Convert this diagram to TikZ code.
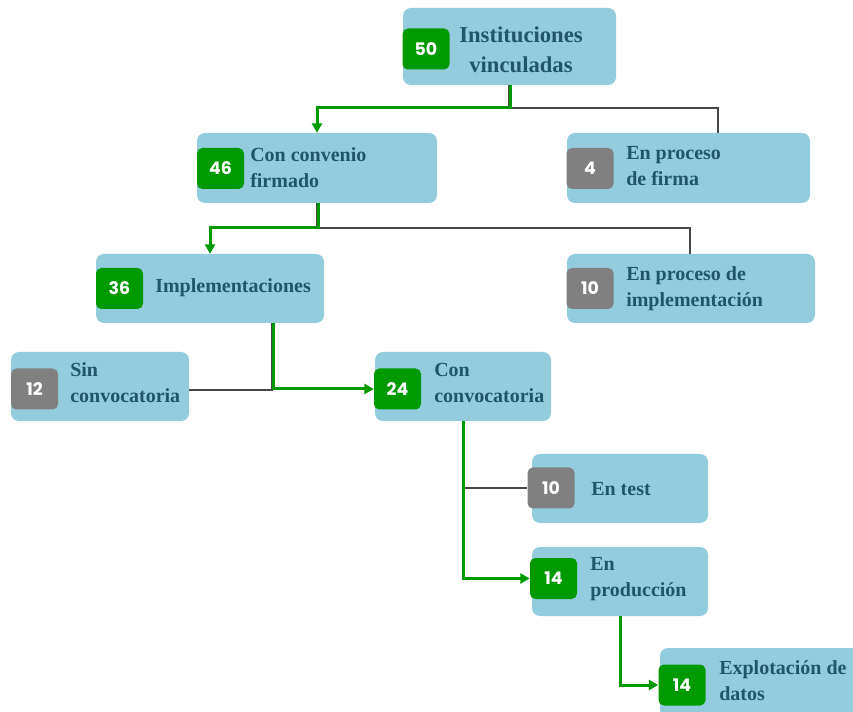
\documentclass[tikz,border=0pt]{standalone}
\usepackage{fontspec}
\setmainfont{Liberation Serif}
\setsansfont{Poppins}
\usetikzlibrary{arrows.meta}

\definecolor{boxblue}{RGB}{147,205,221}
\definecolor{boxtext}{RGB}{33,86,102}
\definecolor{okgreen}{RGB}{0,153,0}
\definecolor{pendgray}{RGB}{128,128,128}
\definecolor{linegray}{RGB}{70,70,70}

\tikzset{
    stagebox/.style={rectangle, rounded corners=6pt, fill=boxblue, inner sep=0pt, minimum height=51.75pt},
    badge/.style={rectangle, rounded corners=4pt, inner sep=0pt, minimum width=35.25pt, minimum height=30.75pt,
        text=white, font=\sffamily\bfseries\fontsize{13}{13}\selectfont},
    okbadge/.style={badge, fill=okgreen},
    pendbadge/.style={badge, fill=pendgray},
    lbl/.style={anchor=west, align=left, inner sep=0pt, text=boxtext, font=\bfseries\fontsize{15}{19.5}\selectfont},
    okline/.style={draw=okgreen, line width=2.25pt, -{Triangle[length=7pt,width=7.5pt]}},
    pendline/.style={draw=linegray, line width=1.4pt},
}

\begin{document}
\begin{tikzpicture}[x=0.75pt, y=-0.75pt]
    \clip (0,0) rectangle (853,712);
    \fill[white] (0,0) rectangle (853,712);

    \node[stagebox, minimum width=159.75pt, minimum height=57.75pt] (inst) at (509.5,46.5) {};
    \node[okbadge] (n50) at (426,49) {50};
    \node[lbl, anchor=center, align=center, font=\bfseries\fontsize{17}{22.5}\selectfont] (linst) at (521,50) {Instituciones\\vinculadas};

    \node[stagebox, minimum width=180pt, minimum height=52.5pt] (conv) at (317,168) {};
    \node[okbadge] (n46) at (220.5,168.5) {46};
    \node[lbl] (lconv) at (250,168) {Con convenio\\firmado};

    \node[stagebox, minimum width=182.25pt, minimum height=52.5pt] (firma) at (688.5,168) {};
    \node[pendbadge] (n4) at (590,168.5) {4};
    \node[lbl] (lfirma) at (626,166) {En proceso\\de firma};

    \node[stagebox, minimum width=171pt] (impl) at (210,288.5) {};
    \node[okbadge] (n36) at (119.5,288.5) {36};
    \node[lbl] (limpl) at (155,288) {Implementaciones};

    \node[stagebox, minimum width=186pt] (pimpl) at (691,288.5) {};
    \node[pendbadge] (n10a) at (590,288.5) {10};
    \node[lbl] (lpimpl) at (626,289) {En proceso de\\implementación};

    \node[stagebox, minimum width=133.5pt] (sin) at (100,386.5) {};
    \node[pendbadge] (n12) at (34.5,389) {12};
    \node[lbl] (lsin) at (70,383) {Sin\\convocatoria};

    \node[stagebox, minimum width=132pt] (con) at (463,386.5) {};
    \node[okbadge] (n24) at (397.5,389) {24};
    \node[lbl] (lcon) at (434,383) {Con\\convocatoria};

    \node[stagebox, minimum width=132pt] (test) at (620,488.5) {};
    \node[pendbadge] (n10b) at (551,488) {10};
    \node[lbl] (ltest) at (591,489) {En test};

    \node[stagebox, minimum width=132pt] (prod) at (620,581.5) {};
    \node[okbadge] (n14a) at (553.5,578.5) {14};
    \node[lbl] (lprod) at (590,579) {En\\producción};

    \node[stagebox, minimum width=157.5pt] (expl) at (765,682.5) {};
    \node[okbadge] (n14b) at (682,685) {14};
    \node[lbl] (lexpl) at (719,681) {Explotación de\\datos};

    \coordinate (j1) at (509,108);
    \coordinate (j2) at (317,228);
    \coordinate (j3) at (272,390);
    \coordinate (j4) at (463,488);
    \coordinate (tfirma) at (718,133);
    \coordinate (tpimpl) at (690,254);
    \coordinate (bimpl) at (272,323);

    \draw[pendline] (inst.south -| j1) -- (j1) -| (tfirma);
    \draw[pendline] (conv.south -| j2) -- (j2) -| (tpimpl);
    \draw[pendline] (bimpl) -- (j3) -- (sin.east |- j3);
    \draw[pendline] (con.south) -- (j4) -- (n10b.west);

    \draw[okline] ([xshift=1.2pt]inst.south -| j1) |- ([xshift=1.2pt]j1) -| (conv.north);
    \draw[okline] ([xshift=1.2pt]conv.south -| j2) |- ([xshift=1.2pt]j2) -| (impl.north);
    \draw[okline] ([xshift=1.2pt]bimpl) |- (n24.west);
    \draw[okline] ([xshift=0.6pt]con.south) |- (n14a.west);
    \draw[okline] (prod.south) |- (n14b.west);
\end{tikzpicture}
\end{document}
